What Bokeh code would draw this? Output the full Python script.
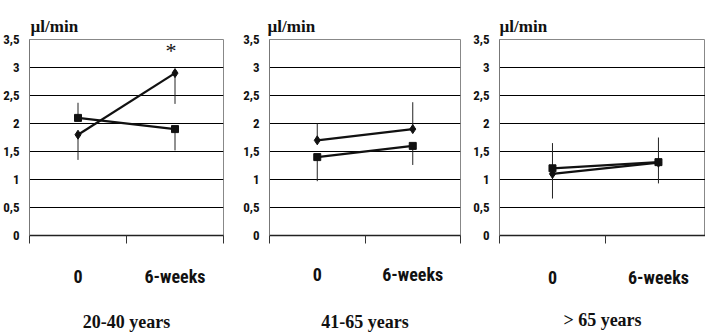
from bokeh.plotting import figure
from bokeh.models import FixedTicker, LinearAxis, Range1d, Title
from bokeh.layouts import row
from bokeh.embed import file_html
from bokeh.resources import INLINE
from bokeh.core.properties import value

# ---- data ----
categories = ["0", "6-weeks"]
cat_x = [0.5, 1.5]
cat_bounds = [0, 1, 2]
y_ticks = [0, 0.5, 1, 1.5, 2, 2.5, 3, 3.5]
y_tick_labels = ["0", "0,5", "1", "1,5", "2", "2,5", "3", "3,5"]
unit_label = "µl/min"
panel_titles = ["20-40 years", "41-65 years", "> 65 years"]

# series "diamond" and "square" for each age group
diamond_vals = [[1.8, 2.9], [1.7, 1.9], [1.1, 1.3]]
square_vals = [[2.1, 1.9], [1.4, 1.6], [1.2, 1.31]]
# end points of the (one-sided) error bars
diamond_err_end = [[1.35, 2.35], [2.0, 2.38], [0.66, 0.93]]
square_err_end = [[2.37, 1.52], [0.97, 1.26], [1.65, 1.75]]
# significance mark
star_panel = 0
star_x = [1.46]
star_y = [3.3]
star_text = ["*"]

NARROW = "Roboto Condensed"
SERIF = "Liberation Serif"

# layout per panel:
# (fig width, border left, border right, x end, border top, border bottom,
#  category standoff, title standoff, unit-label offset)
layouts = [
    (240, 28, 17, 2.0, 39, 97, 22, 22, 1),
    (230, 26, 10, 2.0, 39, 97, 20, 24, -2),
    (235, 25, 0, 1.944, 39, 97, 23, 19, 0),
]

figs = []
for i in range(3):
    w, bl, br, xend, bt, bb, cso, tso, uoff = layouts[i]
    p = figure(width=w, height=334, output_backend="svg", toolbar_location=None,
               x_range=Range1d(0, xend), y_range=Range1d(0, 3.5),
               min_border_left=bl, min_border_right=br,
               min_border_top=bt, min_border_bottom=bb,
               x_axis_location=None, y_axis_location=None)
    p.background_fill_color = "white"
    p.border_fill_color = "white"
    p.outline_line_color = "#888888"
    p.outline_line_width = 1

    # y axis
    yax = LinearAxis(ticker=FixedTicker(ticks=y_ticks))
    yax.major_label_overrides = {t: l for t, l in zip(y_ticks, y_tick_labels)}
    yax.major_label_text_font = NARROW
    yax.major_label_text_font_style = "bold"
    yax.major_label_text_font_size = "13px"
    yax.major_label_text_color = "#111111"
    yax.major_tick_line_color = None
    yax.minor_tick_line_color = None
    yax.axis_line_color = "#777777"
    yax.major_label_standoff = 4
    p.add_layout(yax, "left")

    # bottom axis: category labels at band centres, tick marks at band edges
    xax = LinearAxis(ticker=FixedTicker(ticks=cat_x, minor_ticks=cat_bounds))
    xax.major_label_overrides = {x: c for x, c in zip(cat_x, categories)}
    xax.major_label_text_font = NARROW
    xax.major_label_text_font_style = "bold"
    xax.major_label_text_font_size = "18px"
    xax.major_label_text_color = "#111111"
    xax.major_tick_out = 8
    xax.major_tick_in = 0
    xax.major_tick_line_color = None
    xax.minor_tick_out = 8
    xax.minor_tick_in = 0
    xax.minor_tick_line_color = "#333333"
    xax.minor_tick_line_width = 1
    xax.axis_line_color = "#222222"
    xax.axis_line_width = 1.5
    xax.major_label_standoff = cso
    xax.axis_label = panel_titles[i]
    xax.axis_label_text_font = SERIF
    xax.axis_label_text_font_style = "bold"
    xax.axis_label_text_font_size = "18px"
    xax.axis_label_text_color = "#111111"
    xax.axis_label_text_line_height = 0.8
    xax.axis_label_standoff = tso
    p.add_layout(xax, "below")

    p.add_layout(Title(text=unit_label, align="left", text_font=SERIF,
                       text_font_style="bold", text_font_size="17px",
                       text_color="#111111", offset=uoff, standoff=7), "above")

    p.xgrid.grid_line_color = None
    p.ygrid.ticker = FixedTicker(ticks=y_ticks)
    p.ygrid.grid_line_color = "#000000"
    p.ygrid.grid_line_width = 1

    # error bars
    p.segment(x0=cat_x, y0=diamond_vals[i], x1=cat_x, y1=diamond_err_end[i],
              line_color="#222222", line_width=1)
    p.segment(x0=cat_x, y0=square_vals[i], x1=cat_x, y1=square_err_end[i],
              line_color="#222222", line_width=1)

    # series lines
    p.line(cat_x, diamond_vals[i], line_color="#111111", line_width=2.2)
    p.line(cat_x, square_vals[i], line_color="#111111", line_width=2.2)
    p.scatter(cat_x, diamond_vals[i], marker="diamond", size=9,
              fill_color="#111111", line_color="#111111")
    p.scatter(cat_x, square_vals[i], marker="square", size=7,
              fill_color="#111111", line_color="#111111")

    if i == star_panel:
        p.text(x=star_x, y=star_y, text=star_text, text_font=value(SERIF),
               text_font_size="22px", text_align="center", text_baseline="middle",
               text_color="#111111")
    figs.append(p)

layout = row(*figs, spacing=0)
open("out.html", "w").write(file_html(layout, INLINE))
